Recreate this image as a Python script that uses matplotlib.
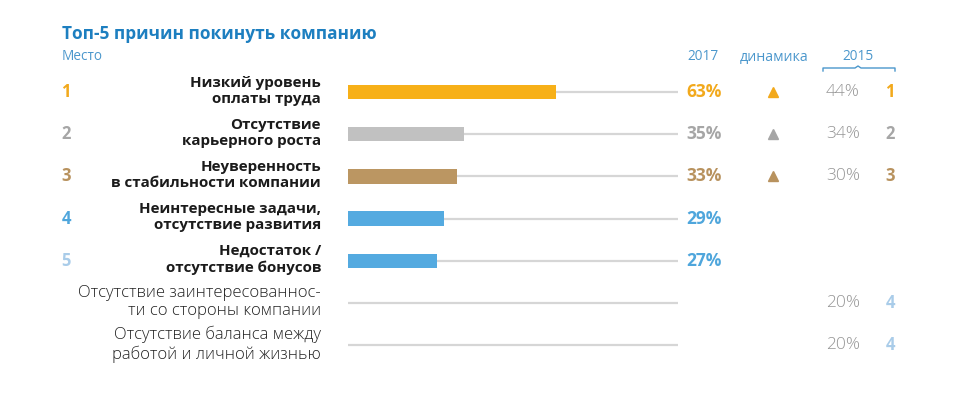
import matplotlib
matplotlib.use("Agg")
import matplotlib.pyplot as plt
from matplotlib.transforms import blended_transform_factory

plt.rcParams["font.family"] = ["Open Sans", "DejaVu Sans"]

# data
reasons = [
    "Низкий уровень\nоплаты труда",
    "Отсутствие\nкарьерного роста",
    "Неуверенность\nв стабильности компании",
    "Неинтересные задачи,\nотсутствие развития",
    "Недостаток /\nотсутствие бонусов",
    "Отсутствие заинтересованнос-\nти со стороны компании",
    "Отсутствие баланса между\nработой и личной жизнью",
]
rank_2017 = ["1", "2", "3", "4", "5", None, None]
pct_2017 = [63, 35, 33, 29, 27, None, None]
trend_up = [True, True, True, False, False, False, False]
pct_2015 = [44, 34, 30, None, None, 20, 20]
rank_2015 = ["1", "2", "3", None, None, "4", "4"]

bar_colors = ["#f7b018", "#c1c1c1", "#bb9662", "#54aae0", "#54aae0", None, None]
val_colors = ["#f2a91c", "#a6a6a6", "#b8925e", "#4fa6dc", "#4fa6dc", None, None]
rank_colors = ["#f2a91c", "#a6a6a6", "#b8925e", "#4fa6dc", "#a9cce9", None, None]
rank15_colors = ["#f2a91c", "#a6a6a6", "#b8925e", None, None, "#a9cce9", "#a9cce9"]
blue_title = "#1d7fc0"
blue_head = "#4b97cc"

W, H = 957, 394
fig = plt.figure(figsize=(W / 100, H / 100), dpi=100)

# bar axes: x 348..678 px -> 0..100 %, rows spaced ~42.2 px, row 0 at y=92 px
step = 42.2
top_px = 92 - step / 2
bot_px = 92 + 6.5 * step
ax = fig.add_axes([348 / W, 1 - bot_px / H, 330 / W, (bot_px - top_px) / H])
ax.set_xlim(0, 100)
ax.set_ylim(6.5, -0.5)
ax.axis("off")

rows = list(range(len(reasons)))
ax.hlines(rows, 0, 100, color="#d6d6d6", lw=1.6, zorder=1)
for i, v in enumerate(pct_2017):
    if v is not None:
        ax.barh(i, v, height=0.34, color=bar_colors[i], zorder=2)

tr = blended_transform_factory(fig.transFigure, ax.transData)
px = lambda x: x / W

for i in rows:
    bold = pct_2017[i] is not None
    ax.text(px(321), i - 0.03, reasons[i], transform=tr, ha="right", va="center",
            fontsize=10.9 if bold else 12, linespacing=1.2,
            fontweight="bold" if bold else "light",
            color="#1b1b1b" if bold else "#222222")
    if rank_2017[i] is not None:
        ax.text(px(66), i, rank_2017[i], transform=tr, ha="center", va="center",
                fontsize=12, fontweight="bold", color=rank_colors[i])
    if pct_2017[i] is not None:
        ax.text(px(686), i, f"{pct_2017[i]}%", transform=tr, ha="left", va="center",
                fontsize=12.5, fontweight="bold", color=val_colors[i])
    if trend_up[i]:
        ax.plot([px(773)], [i], marker="^", ms=6.5, color=val_colors[i],
                transform=tr, clip_on=False)
    if pct_2015[i] is not None:
        ax.text(px(843), i, f"{pct_2015[i]}%", transform=tr, ha="center", va="center",
                fontsize=12.5, fontweight="light", color="#959595")
    if rank_2015[i] is not None:
        ax.text(px(890), i, rank_2015[i], transform=tr, ha="center", va="center",
                fontsize=12, fontweight="bold", color=rank15_colors[i])

# titles and column headers
fig.text(px(62), 1 - 34 / H, "Топ-5 причин покинуть компанию", ha="left", va="center",
         fontsize=12.4, fontweight="bold", color=blue_title)
fig.text(px(62), 1 - 57 / H, "Место", ha="left", va="center",
         fontsize=9.8, color=blue_head)
fig.text(px(703), 1 - 57 / H, "2017", ha="center", va="center",
         fontsize=9.8, color=blue_head)
fig.text(px(774), 1 - 57 / H, "динамика", ha="center", va="center",
         fontsize=10.2, color=blue_head)
fig.text(px(858), 1 - 57 / H, "2015", ha="center", va="center",
         fontsize=9.8, color=blue_head)
# bracket under 2015 with a small bump in the middle
fig.add_artist(plt.Line2D(
    [px(823), px(823), px(855), px(858), px(861), px(895), px(895)],
    [1 - 71 / H, 1 - 68 / H, 1 - 68 / H, 1 - 66 / H, 1 - 68 / H, 1 - 68 / H, 1 - 71 / H],
    color=blue_head, lw=1))

fig.savefig("out.png", dpi=100, facecolor="white")
